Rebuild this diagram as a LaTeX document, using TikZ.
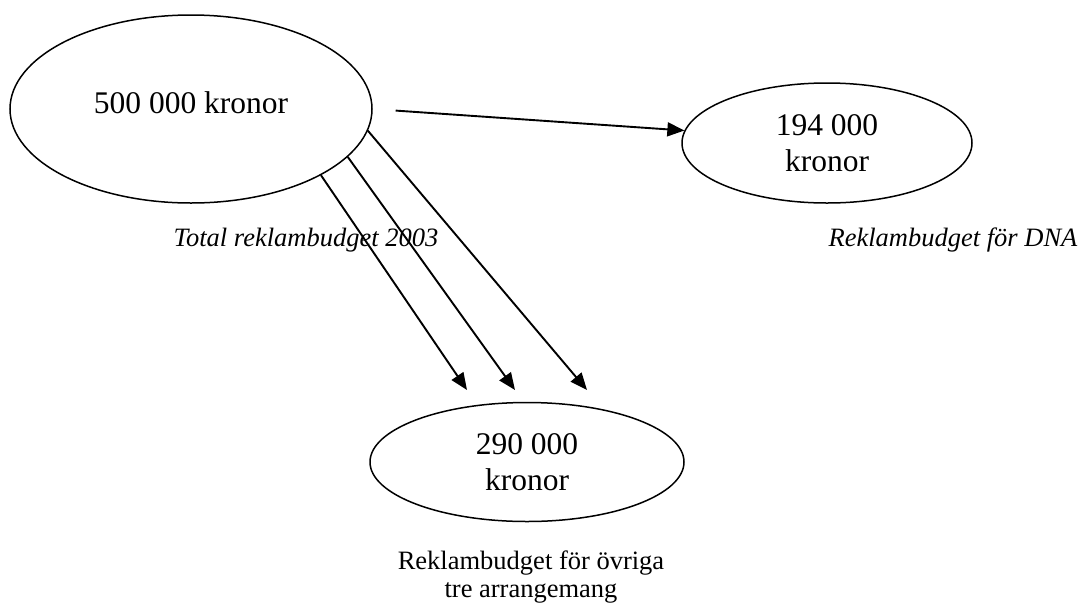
\documentclass[tikz,border=0pt]{standalone}
\usepackage{fontspec}
\setmainfont{Liberation Serif}
\usetikzlibrary{shapes.geometric,arrows.meta}
\begin{document}
\begin{tikzpicture}[x=1pt,y=-1pt,
        budget/.style={draw, ellipse, line width=1.5pt, inner sep=0pt, align=center,
            font=\fontsize{31.5}{36}\selectfont},
        caption/.style={inner sep=0pt, align=center, font=\fontsize{26.5}{28}\selectfont},
        arr/.style={-{Triangle[length=17pt,width=14pt]}, line width=1.9pt}]
        \useasboundingbox (0,0) rectangle (1079,603);
        % budget ellipses with their captions
        \node[budget, minimum width=362pt, minimum height=188pt, text depth=13.5pt] (total) at (191,109) {500 000 kronor};
        \node[budget, minimum width=290pt, minimum height=120pt] (dna) at (827,143) {194 000\\kronor};
        \node[budget, minimum width=314pt, minimum height=119pt] (ovriga) at (527,462) {290 000\\kronor};
        \node[caption, font=\fontsize{26.5}{28}\selectfont\itshape] (totalcap) at (306,240) {Total reklambudget 2003};
        \node[caption, font=\fontsize{26.5}{28}\selectfont\itshape] (dnacap) at (953,240) {Reklambudget för DNA};
        \node[caption] (ovrigacap) at (531,577) {Reklambudget för övriga\\tre arrangemang};
        % arrows
        \draw[arr, shorten <=23pt] (total.east) -- (dna.175);
        \coordinate (tip1) at (467,390);
        \coordinate (tip2) at (515,390);
        \coordinate (tip3) at (587,390);
        \foreach \angle/\tip in {-27/1,-17/2,-7/3} {
            \draw[arr] (total.\angle) -- (tip\tip);
        }
    \end{tikzpicture}
\end{document}
